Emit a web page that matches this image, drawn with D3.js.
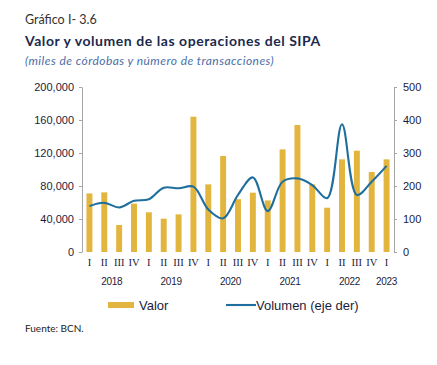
<!DOCTYPE html>
<html>
<head>
<meta charset="utf-8">
<script src="https://cdn.jsdelivr.net/npm/d3@7"></script>
<style>
  body { margin: 0; background: #fff; }
  svg { display: block; }
  .hdr { font-family: 'Lato', 'DejaVu Sans', sans-serif; }
  .tick text { font-family: 'Liberation Sans', Arial, sans-serif; font-size: 11px; fill: #1c1c3a; }
</style>
</head>
<body>
<svg id="chart" width="437" height="365"></svg>
<script>
/* Valor y volumen de las operaciones del SIPA — barras + línea (eje der) */

const QUARTERS = ['I','II','III','IV','I','II','III','IV','I','II','III','IV',
                  'I','II','III','IV','I','II','III','IV','I'];
const YEARS = ['2018','2019','2020','2021','2022','2023'];
const VALOR = [71000, 72300, 32700, 58600, 48100, 40400, 45600, 164000, 82000, 116400, 64000,
               71900, 62500, 124400, 153900, 82000, 53700, 112300, 122800, 97000, 112300];
const VOLUMEN = [139, 149, 135, 155, 160, 195, 193, 198, 129, 102, 173,
                 226, 124, 213, 223, 203, 163, 387, 173, 213, 261];
const LEFT_TICKS = [0, 40000, 80000, 120000, 160000, 200000];
const RIGHT_TICKS = [0, 100, 200, 300, 400, 500];

const GOLD = '#e2b53e';
const BLUE = '#1f6e9e';
const AXIS = '#a6a6a6';

const svg = d3.select('#chart');
const plotL = 82, plotR = 394, plotT = 87, plotB = 252;

const idx = d3.range(QUARTERS.length);
const x = d3.scaleBand().domain(idx).range([plotL, plotR]).paddingInner(0.6).paddingOuter(0.3);
const yL = d3.scaleLinear().domain([0, 200000]).range([plotB, plotT]);
const yR = d3.scaleLinear().domain([0, 500]).range([plotB, plotT]);

// ============================================================
// Header
// ============================================================

svg.append('text').attr('class', 'hdr')
  .attr('x', 25).attr('y', 24)
  .attr('font-size', 12.5).attr('fill', '#333')
  .text('Gráfico I- 3.6');

svg.append('text').attr('class', 'hdr')
  .attr('x', 25).attr('y', 46)
  .attr('font-size', 14).attr('font-weight', 'bold').attr('letter-spacing', 0.55)
  .attr('fill', '#1b2a4e')
  .text('Valor y volumen de las operaciones del SIPA');

svg.append('text').attr('class', 'hdr')
  .attr('x', 25).attr('y', 65)
  .attr('font-size', 12).attr('font-style', 'italic').attr('letter-spacing', 0.45)
  .attr('fill', '#4a6ea8')
  .text('(miles de córdobas y número de transacciones)');

// ============================================================
// Bars + line
// ============================================================

svg.append('g').selectAll('rect')
  .data(VALOR)
  .join('rect')
  .attr('x', (d, i) => x(i))
  .attr('width', x.bandwidth())
  .attr('y', d => yL(d))
  .attr('height', d => plotB - yL(d))
  .attr('fill', GOLD);

const line = d3.line()
  .x((d, i) => x(i) + x.bandwidth() / 2)
  .y(d => yR(d))
  .curve(d3.curveCatmullRom.alpha(0.5));

svg.append('path')
  .datum(VOLUMEN)
  .attr('d', line)
  .attr('fill', 'none')
  .attr('stroke', BLUE)
  .attr('stroke-width', 2.1);

// ============================================================
// Axes
// ============================================================

const fmt = d3.format(',');

const gL = svg.append('g')
  .attr('transform', `translate(${plotL},0)`)
  .call(d3.axisLeft(yL).tickValues(LEFT_TICKS).tickFormat(fmt).tickSize(3).tickSizeOuter(0).tickPadding(5));
const gR = svg.append('g')
  .attr('transform', `translate(${plotR},0)`)
  .call(d3.axisRight(yR).tickValues(RIGHT_TICKS).tickSize(3).tickSizeOuter(0).tickPadding(6));
[gL, gR].forEach(g => {
  g.select('.domain').attr('stroke', AXIS);
  g.selectAll('.tick line').attr('stroke', AXIS);
  g.selectAll('.tick text').attr('font-size', 11.5);
});

// quarter labels (serif, like the original)
svg.append('g').selectAll('text')
  .data(QUARTERS)
  .join('text')
  .attr('x', (d, i) => x(i) + x.bandwidth() / 2)
  .attr('y', 266)
  .attr('text-anchor', 'middle')
  .attr('font-family', "'Liberation Serif', 'DejaVu Serif', serif")
  .attr('font-size', 10.5)
  .attr('fill', '#1c1c3a')
  .text(d => d);

// year labels centred under their quarters
svg.append('g').selectAll('text')
  .data(YEARS)
  .join('text')
  .attr('x', (d, i) => {
    const first = i * 4;
    const last = Math.min(first + 3, QUARTERS.length - 1);
    return (x(first) + x(last)) / 2 + x.bandwidth() / 2;
  })
  .attr('y', 285)
  .attr('text-anchor', 'middle')
  .attr('font-family', "'Liberation Sans', Arial, sans-serif")
  .attr('font-size', 10)
  .attr('letter-spacing', -0.3)
  .attr('fill', '#1c1c3a')
  .text(d => d);

// ============================================================
// Legend + source
// ============================================================

const leg = svg.append('g')
  .attr('font-family', "'Liberation Sans', Arial, sans-serif")
  .attr('font-size', 13).attr('fill', '#1c1c3a');

leg.append('rect').attr('x', 108).attr('y', 302).attr('width', 26).attr('height', 6).attr('fill', GOLD);
leg.append('text').attr('x', 139).attr('y', 310).text('Valor');
leg.append('line').attr('x1', 226).attr('x2', 256).attr('y1', 305).attr('y2', 305)
  .attr('stroke', BLUE).attr('stroke-width', 2.1);
leg.append('text').attr('x', 256).attr('y', 310).text('Volumen (eje der)');

svg.append('text').attr('class', 'hdr')
  .attr('x', 25).attr('y', 332)
  .attr('font-size', 10).attr('fill', '#222')
  .text('Fuente: BCN.');
</script>
</body>
</html>
